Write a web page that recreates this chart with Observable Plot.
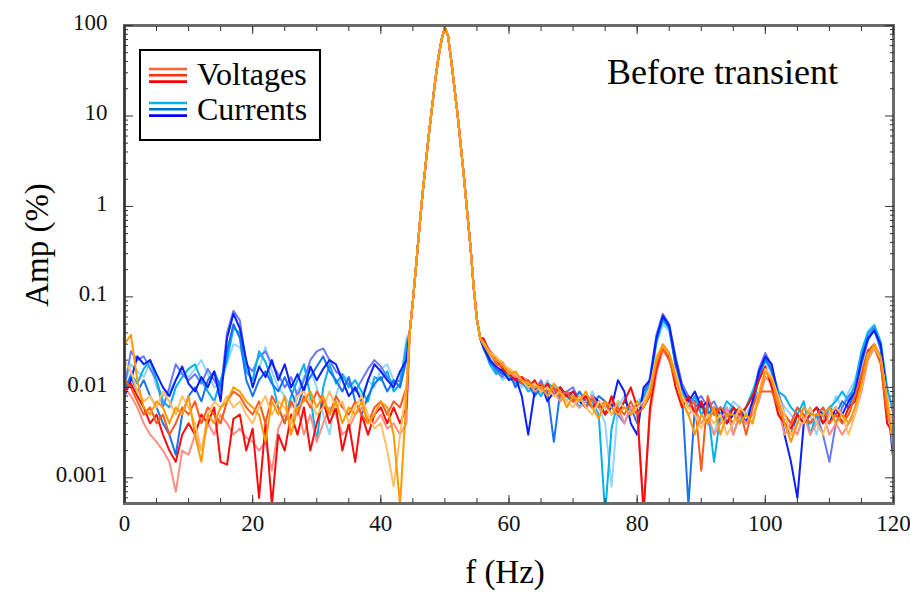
<!DOCTYPE html>
<html><head><meta charset="utf-8">
<script src="https://cdn.jsdelivr.net/npm/d3@7"></script>
<script src="https://cdn.jsdelivr.net/npm/@observablehq/plot@0.6"></script>
<style>body{margin:0;background:#fff;} #chart{width:910px;height:594px;}</style>
</head><body><div id="chart"></div>
<script>
// Frequency grids (Hz)
const freqLow = d3.range(0, 45);      // 0..44 Hz
const freqHigh = d3.range(56, 121);   // 56..120 Hz
const peakFreq = [44.5,45,45.5,46,46.5,47,47.5,48,48.5,49,49.5,50,50.5,51,51.5,52,52.5,53,53.5,54,54.5,55,55.5];
const peakAmp  = [0.04,0.09,0.22,0.56,1.35,2.95,6.3,12.6,25,45,71,95,76,40,20,10,4.5,2,0.83,0.35,0.125,0.056,0.035];

// Voltages (%)
const v1Low = [0.009,0.011,0.008,0.006,0.004,0.005,0.003,0.002,0.0015,0.003,
 0.004,0.003,0.005,0.004,0.006,0.0015,0.0014,0.0045,0.005,0.002,
 0.0035,0.0006,0.004,0.0005,0.003,0.002,0.005,0.003,0.006,0.002,
 0.004,0.007,0.004,0.006,0.002,0.004,0.0015,0.005,0.003,0.005,
 0.006,0.004,0.006,0.004,0.006];
const v2Low = [0.012,0.01,0.007,0.005,0.006,0.004,0.005,0.003,0.004,0.006,
 0.005,0.007,0.004,0.006,0.005,0.004,0.007,0.009,0.008,0.006,
 0.005,0.007,0.004,0.008,0.006,0.004,0.007,0.005,0.008,0.006,
 0.009,0.007,0.005,0.008,0.006,0.005,0.007,0.005,0.004,0.006,
 0.007,0.005,0.007,0.006,0.01];
const v3Low = [0.03,0.038,0.012,0.006,0.005,0.007,0.006,0.004,0.006,0.005,
 0.008,0.003,0.0015,0.005,0.004,0.006,0.007,0.01,0.009,0.007,
 0.006,0.005,0.0025,0.007,0.005,0.008,0.003,0.006,0.007,0.009,
 0.006,0.008,0.005,0.007,0.004,0.006,0.005,0.007,0.004,0.005,
 0.007,0.006,0.003,0.0005,0.008];
const v4Low = [0.01,0.008,0.006,0.004,0.003,0.0025,0.002,0.0015,0.0007,0.002,
 0.0018,0.003,0.002,0.004,0.003,0.005,0.004,0.003,0.0035,0.0028,
 0.0025,0.002,0.0025,0.0012,0.0035,0.005,0.004,0.006,0.003,0.005,
 0.0025,0.004,0.006,0.005,0.003,0.0035,0.005,0.006,0.0045,0.004,
 0.005,0.0035,0.004,0.003,0.004];
const v5Low = [0.02,0.015,0.009,0.007,0.008,0.006,0.009,0.007,0.005,0.008,
 0.006,0.004,0.002,0.005,0.007,0.006,0.008,0.006,0.007,0.005,
 0.004,0.006,0.008,0.005,0.007,0.006,0.004,0.008,0.009,0.007,
 0.005,0.006,0.009,0.006,0.007,0.004,0.006,0.008,0.005,0.0035,
 0.004,0.002,0.0008,0.003,0.01];

const v1High = [0.035,0.024,0.02,0.016,0.014,0.012,0.013,0.01,0.012,0.009,
 0.011,0.008,0.01,0.008,0.009,0.007,0.008,0.006,0.007,0.005,
 0.008,0.005,0.007,0.01,0.006,0.0004,0.006,0.016,0.028,0.022,
 0.01,0.006,0.008,0.005,0.007,0.004,0.006,0.005,0.004,0.006,
 0.005,0.006,0.008,0.012,0.017,0.01,0.005,0.004,0.0035,0.005,
 0.004,0.005,0.006,0.004,0.005,0.006,0.004,0.006,0.007,0.012,
 0.025,0.03,0.02,0.004,0.003];
const v2High = [0.032,0.025,0.018,0.017,0.016,0.014,0.011,0.012,0.01,0.011,
 0.009,0.01,0.008,0.009,0.007,0.008,0.006,0.0075,0.006,0.007,
 0.005,0.006,0.005,0.007,0.005,0.006,0.008,0.018,0.027,0.02,
 0.012,0.008,0.006,0.007,0.0012,0.008,0.005,0.006,0.005,0.004,
 0.006,0.003,0.006,0.009,0.009,0.009,0.006,0.005,0.004,0.006,
 0.005,0.004,0.005,0.006,0.004,0.005,0.004,0.005,0.008,0.014,
 0.026,0.028,0.018,0.005,0.0035];
const v3High = [0.03,0.023,0.02,0.018,0.014,0.015,0.012,0.011,0.01,0.01,
 0.008,0.011,0.009,0.006,0.008,0.007,0.009,0.006,0.0045,0.007,
 0.006,0.005,0.006,0.005,0.007,0.006,0.009,0.02,0.03,0.024,
 0.013,0.007,0.005,0.003,0.005,0.004,0.006,0.003,0.005,0.005,
 0.004,0.005,0.004,0.008,0.015,0.012,0.007,0.004,0.0025,0.004,
 0.006,0.005,0.005,0.005,0.006,0.004,0.005,0.004,0.006,0.011,
 0.022,0.03,0.022,0.007,0.002];
const v4High = [0.033,0.026,0.021,0.019,0.015,0.013,0.013,0.012,0.009,0.01,
 0.01,0.009,0.007,0.009,0.007,0.006,0.007,0.008,0.006,0.005,
 0.007,0.006,0.004,0.006,0.005,0.0005,0.005,0.014,0.026,0.02,
 0.014,0.007,0.005,0.006,0.004,0.005,0.003,0.004,0.006,0.003,
 0.005,0.004,0.005,0.007,0.013,0.011,0.006,0.003,0.004,0.003,
 0.005,0.003,0.004,0.005,0.003,0.004,0.003,0.004,0.005,0.009,
 0.02,0.027,0.019,0.006,0.0025];
const v5High = [0.031,0.024,0.022,0.018,0.016,0.014,0.012,0.01,0.011,0.009,
 0.01,0.008,0.009,0.007,0.006,0.008,0.006,0.005,0.007,0.006,
 0.005,0.007,0.006,0.005,0.006,0.007,0.01,0.022,0.029,0.023,
 0.015,0.008,0.006,0.005,0.0035,0.005,0.004,0.005,0.003,0.004,
 0.006,0.005,0.004,0.009,0.016,0.013,0.008,0.005,0.003,0.004,
 0.004,0.006,0.004,0.003,0.005,0.006,0.005,0.003,0.005,0.01,
 0.023,0.028,0.021,0.008,0.003];

// Currents (%)
const c1Low = [0.008,0.012,0.022,0.018,0.02,0.014,0.01,0.008,0.012,0.017,
 0.011,0.009,0.013,0.01,0.015,0.007,0.035,0.065,0.045,0.02,
 0.01,0.017,0.013,0.02,0.012,0.018,0.01,0.014,0.009,0.017,
 0.012,0.016,0.02,0.018,0.012,0.008,0.01,0.007,0.012,0.018,
 0.015,0.012,0.01,0.015,0.02];
const c2Low = [0.01,0.025,0.02,0.022,0.016,0.012,0.006,0.01,0.018,0.014,
 0.012,0.014,0.011,0.016,0.012,0.009,0.04,0.07,0.055,0.018,
 0.015,0.022,0.025,0.018,0.014,0.01,0.013,0.008,0.012,0.02,
 0.025,0.027,0.02,0.015,0.013,0.011,0.009,0.012,0.016,0.02,
 0.017,0.013,0.011,0.012,0.025];
const c3Low = [0.009,0.014,0.011,0.016,0.02,0.012,0.007,0.006,0.01,0.013,
 0.016,0.018,0.012,0.009,0.007,0.012,0.02,0.045,0.04,0.015,
 0.012,0.025,0.019,0.012,0.006,0.004,0.008,0.012,0.018,0.008,
 0.0025,0.01,0.018,0.011,0.014,0.01,0.012,0.009,0.007,0.013,
 0.012,0.015,0.009,0.011,0.03];
const c4Low = [0.01,0.013,0.009,0.012,0.008,0.006,0.004,0.003,0.0018,0.005,
 0.008,0.01,0.007,0.012,0.015,0.01,0.025,0.05,0.035,0.012,
 0.008,0.012,0.015,0.011,0.009,0.013,0.009,0.006,0.01,0.013,
 0.017,0.022,0.015,0.012,0.009,0.013,0.007,0.005,0.008,0.011,
 0.013,0.009,0.012,0.01,0.02];
const c5Low = [0.011,0.018,0.015,0.013,0.019,0.01,0.008,0.009,0.012,0.015,
 0.013,0.016,0.02,0.014,0.01,0.011,0.018,0.03,0.028,0.016,
 0.012,0.016,0.028,0.015,0.01,0.008,0.006,0.009,0.013,0.016,
 0.01,0.005,0.003,0.008,0.014,0.012,0.01,0.008,0.012,0.01,
 0.016,0.018,0.012,0.01,0.035];

const c1High = [0.028,0.02,0.017,0.015,0.012,0.013,0.008,0.003,0.009,0.011,
 0.007,0.009,0.01,0.008,0.009,0.007,0.006,0.008,0.007,0.005,
 0.006,0.012,0.009,0.004,0.003,0.01,0.012,0.035,0.062,0.048,
 0.02,0.01,0.007,0.009,0.006,0.007,0.005,0.006,0.004,0.005,
 0.006,0.004,0.007,0.015,0.022,0.018,0.008,0.003,0.0015,0.0006,
 0.004,0.005,0.006,0.005,0.004,0.006,0.005,0.007,0.009,0.02,
 0.035,0.042,0.03,0.008,0.0015];
const c2High = [0.03,0.021,0.015,0.013,0.016,0.012,0.011,0.01,0.009,0.012,
 0.008,0.01,0.008,0.009,0.01,0.007,0.008,0.006,0.007,0.006,
 0.007,0.005,0.004,0.006,0.005,0.007,0.013,0.038,0.065,0.05,
 0.022,0.011,0.008,0.007,0.008,0.006,0.007,0.005,0.006,0.003,
 0.005,0.006,0.008,0.016,0.024,0.017,0.009,0.005,0.004,0.006,
 0.005,0.004,0.005,0.003,0.0015,0.004,0.006,0.008,0.01,0.022,
 0.038,0.045,0.028,0.006,0.004];
const c3High = [0.029,0.018,0.014,0.016,0.013,0.011,0.012,0.009,0.01,0.008,
 0.011,0.01,0.007,0.009,0.008,0.006,0.008,0.007,0.005,0.0004,
 0.0035,0.007,0.006,0.005,0.006,0.008,0.011,0.032,0.055,0.045,
 0.018,0.009,0.006,0.008,0.005,0.006,0.0015,0.005,0.007,0.006,
 0.004,0.006,0.009,0.014,0.02,0.016,0.009,0.008,0.006,0.005,
 0.007,0.003,0.005,0.004,0.006,0.007,0.009,0.007,0.011,0.025,
 0.04,0.048,0.032,0.01,0.005];
const c4High = [0.027,0.019,0.016,0.014,0.015,0.01,0.013,0.011,0.008,0.01,
 0.009,0.0025,0.009,0.008,0.007,0.009,0.007,0.006,0.008,0.007,
 0.006,0.005,0.007,0.006,0.004,0.009,0.012,0.034,0.06,0.046,
 0.017,0.008,0.0005,0.006,0.007,0.005,0.006,0.004,0.005,0.006,
 0.005,0.004,0.006,0.013,0.021,0.015,0.007,0.004,0.003,0.005,
 0.004,0.006,0.004,0.005,0.006,0.005,0.007,0.006,0.009,0.018,
 0.033,0.044,0.026,0.007,0.002];
const c5High = [0.031,0.022,0.016,0.012,0.014,0.012,0.01,0.012,0.009,0.009,
 0.012,0.008,0.01,0.007,0.009,0.008,0.006,0.009,0.006,0.004,
 0.0008,0.006,0.008,0.005,0.007,0.008,0.01,0.03,0.05,0.042,
 0.019,0.01,0.007,0.005,0.006,0.004,0.003,0.006,0.005,0.007,
 0.006,0.005,0.007,0.012,0.019,0.014,0.008,0.006,0.005,0.004,
 0.006,0.005,0.003,0.006,0.005,0.008,0.006,0.009,0.012,0.024,
 0.042,0.05,0.03,0.009,0.006];

// Series in drawing order, with colors
const seriesNames = ["C5","C2","C3","C4","C1","V4","V1","V2","V5","V3"];
const seriesColors = ["#8fd6ff","#6a78ff","#00b0f0","#1a72f0","#0a1eff","#ff8f85","#ff0a0a","#ff5a1e","#ffc068","#ff9a00"];
const seriesLow = [c5Low,c2Low,c3Low,c4Low,c1Low,v4Low,v1Low,v2Low,v5Low,v3Low];
const seriesHigh = [c5High,c2High,c3High,c4High,c1High,v4High,v1High,v2High,v5High,v3High];

// Axes
const xMajor = [0,20,40,60,80,100,120];
const xLabels = ["0","20","40","60","80","100","120"];
const xMinor = d3.range(0,121,5);
const yMajor = [0.001,0.01,0.1,1,10,100];
const yLabels = ["0.001","0.01","0.1","1","10","100"];
const yMinor = [];
for (const k of [-4,-3,-2,-1,0,1]) for (let m = 2; m <= 9; m++) { const v = m * Math.pow(10,k); if (v > 0.00052 && v < 100) yMinor.push(+v.toPrecision(3)); }

// Legend
const legendLabels = ["Voltages","Currents"];
const legendVoltColors = ["#ff6633","#ff3300","#ff0000"];
const legendCurrColors = ["#00b0f0","#0070c0","#0000ff"];
const titleText = "Before transient";

function buildSeries(low, high) {
  return [
    ...low.map((v,i)=>({f: freqLow[i], v})),
    ...peakFreq.map((f,i)=>({f, v: peakAmp[i]})),
    ...high.map((v,i)=>({f: freqHigh[i], v}))
  ];
}

const lineMarks = seriesNames.map((n,i) =>
  Plot.line(buildSeries(seriesLow[i], seriesHigh[i]), {x:"f", y:"v", stroke: seriesColors[i], strokeWidth: 2, clip: true}));

const SERIF = "'Liberation Serif', 'Times New Roman', serif";
const fs = 23;
const chart = Plot.plot({
  width: 910, height: 594,
  marginLeft: 124, marginRight: 17, marginTop: 25, marginBottom: 91,
  x: {domain: [0,120], label: null},
  y: {type: "log", domain: [0.00052, 100], label: null},
  style: {fontFamily: SERIF, background: "#fff", color: "#333", overflow: "visible"},
  marks: [
    ...lineMarks,
    Plot.frame({stroke: "#6a6a6a", strokeWidth: 3}),
    Plot.ruleX([0], {stroke: "#333", strokeWidth: 2}),
    Plot.axisX(xMinor, {anchor: "bottom", tickSize: -5, tickFormat: () => "", label: null}),
    Plot.axisX(xMajor, {anchor: "bottom", tickSize: -8, tickFormat: () => "", label: null}),
    Plot.axisX(xMinor, {anchor: "top", tickSize: -5, tickFormat: () => "", label: null}),
    Plot.axisX(xMajor, {anchor: "top", tickSize: -8, tickFormat: () => "", label: null}),
    Plot.axisX(xMajor, {anchor: "bottom", tickSize: 0, tickPadding: 11, fontSize: fs, tickFormat: d => xLabels[xMajor.indexOf(d)], label: null}),
    Plot.axisY(yMinor, {anchor: "left", tickSize: -4, tickFormat: () => "", label: null}),
    Plot.axisY(yMajor, {anchor: "left", tickSize: -9, tickFormat: () => "", label: null}),
    Plot.axisY(yMinor, {anchor: "right", tickSize: -4, tickFormat: () => "", label: null}),
    Plot.axisY(yMajor, {anchor: "right", tickSize: -9, tickFormat: () => "", label: null}),
    Plot.axisY(yMajor, {anchor: "left", tickSize: 0, tickPadding: 17, dy: -3, fontSize: fs, tickFormat: d => yLabels[yMajor.indexOf(d)], label: null})
  ]
});

const svg = d3.select(chart);

// Legend
const leg = svg.append("g");
leg.append("rect").attr("x",140).attr("y",50).attr("width",180).attr("height",90)
  .attr("fill","#fff").attr("stroke","#000").attr("stroke-width",2);
const groups = [legendVoltColors, legendCurrColors];
groups.forEach((cols, g) => {
  cols.forEach((c, j) => {
    leg.append("line").attr("x1",149).attr("x2",187)
      .attr("y1", 69 + g*34 + j*6.3).attr("y2", 69 + g*34 + j*6.3)
      .attr("stroke", c).attr("stroke-width", 2.6);
  });
  leg.append("text").attr("x",197).attr("y", 85 + g*35).attr("text-anchor","start").text(legendLabels[g])
    .attr("font-size",32).attr("fill","#000");
});

// Title inside plot
svg.append("text").attr("x",838).attr("y",84).attr("text-anchor","end").text(titleText)
  .attr("font-size",36).attr("fill","#000");

// Axis titles
svg.append("text").attr("x",505).attr("y",583).attr("text-anchor","middle").text("f (Hz)")
  .attr("font-size",33).attr("fill","#000");
svg.append("text").attr("transform","translate(48,245) rotate(-90)").attr("text-anchor","middle").text("Amp (%)")
  .attr("font-size",33).attr("fill","#000");

// Force serif font on every text
svg.selectAll("text").style("font-family", SERIF);
svg.selectAll("g[aria-label$='tick label'] text").attr("fill", "#111");

document.getElementById("chart").appendChild(chart);
</script>
</body></html>
